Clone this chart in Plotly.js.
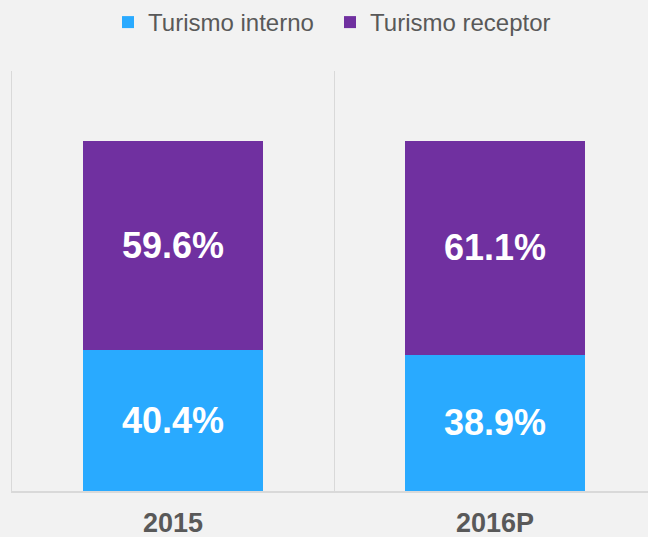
<!DOCTYPE html>
<html>
<head>
<meta charset="utf-8">
<script src="https://cdn.plot.ly/plotly-3.0.1.min.js"></script>
<style>
  html, body { margin: 0; padding: 0; background: #f2f2f2; }
  #chart { width: 648px; height: 537px; }
</style>
</head>
<body>
<div id="chart"></div>
<script>
const categories = ["2015", "2016P"];
const seriesNames = ["Turismo interno", "Turismo receptor"];
const turismoInterno = [40.4, 38.9];
const turismoReceptor = [59.6, 61.1];

const FONT = '"Liberation Sans", Arial, sans-serif';

const traces = [
  {
    type: 'bar',
    name: seriesNames[0],
    x: categories,
    y: turismoInterno,
    marker: { color: '#29aaff' },
    width: 0.559,
    texttemplate: '%{y:.1f}%',
    textposition: 'inside',
    insidetextanchor: 'middle',
    textfont: { family: FONT, size: 36, color: '#ffffff', weight: 'bold' },
    hoverinfo: 'skip'
  },
  {
    type: 'bar',
    name: seriesNames[1],
    x: categories,
    y: turismoReceptor,
    marker: { color: '#7030a0' },
    width: 0.559,
    texttemplate: '%{y:.1f}%',
    textposition: 'inside',
    insidetextanchor: 'middle',
    textfont: { family: FONT, size: 36, color: '#ffffff', weight: 'bold' },
    hoverinfo: 'skip'
  }
];

const layout = {
  width: 648,
  height: 537,
  barmode: 'stack',
  paper_bgcolor: '#f2f2f2',
  plot_bgcolor: '#f2f2f2',
  margin: { l: 12, r: 0, t: 71, b: 46, pad: 0 },
  font: { family: FONT, color: '#595959' },
  showlegend: true,
  legend: {
    orientation: 'h',
    x: 0.1667, xanchor: 'left',
    y: 1, yanchor: 'top',
    yref: 'container',
    xref: 'container',
    entrywidth: 177,
    entrywidthmode: 'pixels',
    font: { family: FONT, size: 24, color: '#595959' },
    bgcolor: 'rgba(0,0,0,0)',
    traceorder: 'normal',
    itemclick: false
  },
  xaxis: {
    type: 'category',
    range: [-0.5, 1.475],
    tickson: 'boundaries',
    showgrid: true,
    gridcolor: '#d9d9d9',
    gridwidth: 1,
    showline: true,
    linecolor: '#d9d9d9',
    linewidth: 1.5,
    ticks: '',
    tickfont: { family: FONT, size: 27, color: '#595959', weight: 'bold' },
    ticklabelstandoff: 7,
    fixedrange: true
  },
  yaxis: {
    range: [0, 120],
    showgrid: false,
    zeroline: false,
    showticklabels: false,
    showline: true,
    linecolor: '#d9d9d9',
    linewidth: 1,
    ticks: '',
    fixedrange: true
  }
};

Plotly.newPlot('chart', traces, layout, { displayModeBar: false, staticPlot: true });
</script>
</body>
</html>
